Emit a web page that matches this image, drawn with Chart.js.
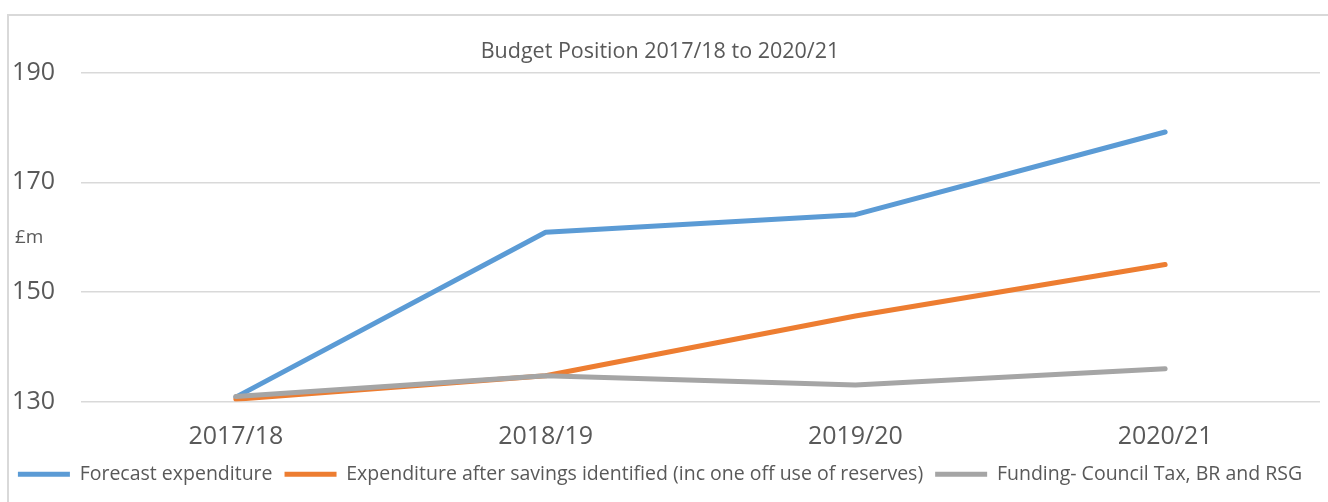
<!DOCTYPE html>
<html>
<head>
<meta charset="utf-8">
<script src="https://cdn.jsdelivr.net/npm/chart.js@4.4.0/dist/chart.umd.min.js"></script>
<style>
  html, body { margin: 0; padding: 0; background: #fff; }
  #frame { position: absolute; left: 7px; top: 14px; width: 1330px; height: 600px;
           border-left: 2px solid #D9D9D9; border-top: 2px solid #D9D9D9; }
  #wrap { position: absolute; left: 0; top: 0; width: 1328px; height: 502px; }
</style>
</head>
<body>
<div id="frame"></div>
<div id="wrap"><canvas id="myChart"></canvas></div>
<script>
const years = ['2017/18', '2018/19', '2019/20', '2020/21']
const forecast = [130.8, 160.9, 164.1, 179.2]
const afterSavings = [130.4, 134.7, 145.6, 155.0]
const funding = [130.9, 134.7, 133.0, 136.0]
const seriesNames = [
    'Forecast expenditure',
    'Expenditure after savings identified (inc one off use of reserves)',
    'Funding- Council Tax, BR and RSG'
]
const yTicks = [130, 150, 170, 190]

const textColor = '#595959'
const fontName = "'Open Sans', sans-serif"

// "£m" label beside the value axis
const unitLabel = {
    id: 'unitLabel',
    afterDraw: (chart) => {
        const c = chart.ctx
        c.save()
        c.fillStyle = textColor
        c.font = '19px ' + fontName
        c.textAlign = 'left'
        c.textBaseline = 'middle'
        c.fillText('£m', 15, 238)
        c.restore()
    }
}

const makeSet = (label, data, color, order) => ({
    label: label,
    data: data,
    borderColor: color,
    backgroundColor: color,
    borderWidth: 5,
    borderCapStyle: 'round',
    borderJoinStyle: 'round',
    pointRadius: 0,
    pointHoverRadius: 0,
    tension: 0,
    order: order
})

const ctx = document.getElementById('myChart')
const myChart = new Chart(ctx, {
    type: 'line',
    data: {
        labels: years,
        datasets: [
            makeSet(seriesNames[0], forecast, '#5B9BD5', 2),
            makeSet(seriesNames[1], afterSavings, '#ED7D31', 1),
            makeSet(seriesNames[2], funding, '#A5A5A5', 0)
        ]
    },
    options: {
        responsive: true,
        maintainAspectRatio: false,
        animation: false,
        layout: { padding: { left: 0, right: 8, top: 0, bottom: 8 } },
        plugins: {
            title: {
                display: true,
                text: 'Budget Position 2017/18 to 2020/21',
                color: textColor,
                font: { family: fontName, size: 21.5, weight: 'normal' },
                padding: { top: 39, bottom: 8 }
            },
            legend: {
                position: 'bottom',
                labels: {
                    usePointStyle: true,
                    pointStyle: 'line',
                    pointStyleWidth: 52,
                    color: textColor,
                    font: { family: fontName, size: 19.5 },
                    padding: 12,
                    sort: (a, b) => a.datasetIndex - b.datasetIndex
                }
            },
            tooltip: { enabled: false }
        },
        scales: {
            x: {
                offset: true,
                afterFit: (scale) => { scale.height = 51 },
                grid: { display: false, drawTicks: false, offset: true },
                border: { display: false },
                ticks: {
                    color: textColor,
                    font: { family: fontName, size: 25 },
                    padding: 20
                }
            },
            y: {
                min: 130,
                max: 190,
                afterFit: (scale) => { scale.width = 81 },
                afterBuildTicks: (scale) => { scale.ticks = yTicks.map(v => ({ value: v })) },
                grid: { color: '#D9D9D9', lineWidth: 1.5, drawTicks: false },
                border: { display: false },
                ticks: {
                    color: textColor,
                    font: { family: fontName, size: 25 },
                    padding: 26
                }
            }
        }
    },
    plugins: [unitLabel]
})
</script>
</body>
</html>
